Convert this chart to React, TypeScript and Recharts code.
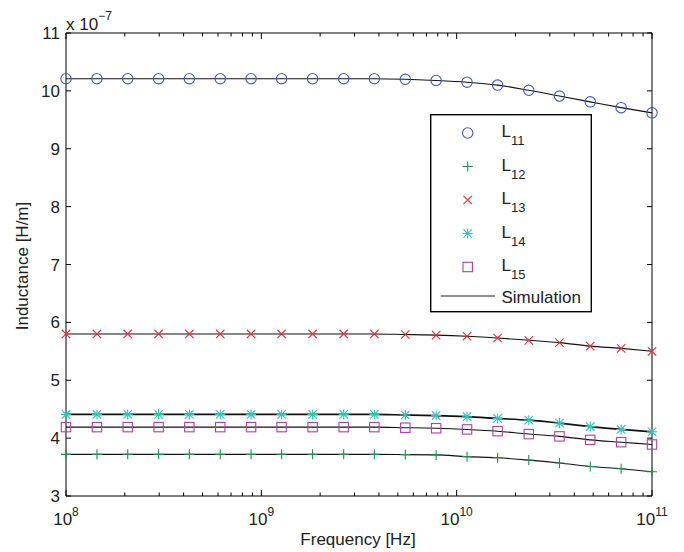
import React from 'react';
import { LineChart, Line, XAxis, YAxis, ReferenceArea } from 'recharts';

// frequency samples [Hz]
const freqs = [
  1e8, 1.44e8, 2.07e8, 2.98e8, 4.28e8, 6.16e8, 8.86e8, 1.27e9, 1.83e9, 2.64e9,
  3.79e9, 5.46e9, 7.85e9, 1.13e10, 1.62e10, 2.34e10, 3.36e10, 4.83e10, 6.95e10, 1e11,
];

// inductance, in units of 1e-7 H/m
const L11 = [10.21, 10.21, 10.21, 10.21, 10.21, 10.21, 10.21, 10.21, 10.21, 10.21, 10.21, 10.2, 10.18, 10.15, 10.1, 10.01, 9.91, 9.81, 9.71, 9.62];
const L12 = [3.72, 3.72, 3.72, 3.72, 3.72, 3.72, 3.72, 3.72, 3.72, 3.72, 3.72, 3.715, 3.71, 3.68, 3.66, 3.62, 3.57, 3.51, 3.47, 3.42];
const L13 = [5.8, 5.8, 5.8, 5.8, 5.8, 5.8, 5.8, 5.8, 5.8, 5.8, 5.8, 5.79, 5.78, 5.76, 5.73, 5.69, 5.65, 5.59, 5.55, 5.5];
const L14 = [4.41, 4.41, 4.41, 4.41, 4.41, 4.41, 4.41, 4.41, 4.41, 4.41, 4.41, 4.4, 4.39, 4.37, 4.34, 4.31, 4.26, 4.2, 4.15, 4.11];
const L15 = [4.19, 4.19, 4.19, 4.19, 4.19, 4.19, 4.19, 4.19, 4.19, 4.19, 4.19, 4.18, 4.17, 4.15, 4.12, 4.07, 4.03, 3.97, 3.93, 3.89];

const xMajor = [1e8, 1e9, 1e10, 1e11];
const xExp = ['8', '9', '10', '11'];
const yTicks = [3, 4, 5, 6, 7, 8, 9, 10, 11];

const series = [
  { key: 'L11', sub: '11', values: L11, shape: 'circle', color: '#3b5cc6' },
  { key: 'L12', sub: '12', values: L12, shape: 'plus', color: '#1f8f4f' },
  { key: 'L13', sub: '13', values: L13, shape: 'cross', color: '#ec2a30' },
  { key: 'L14', sub: '14', values: L14, shape: 'star', color: '#2ec2c4' },
  { key: 'L15', sub: '15', values: L15, shape: 'square', color: '#b03ea6' },
];

const rows = freqs.map((f, i) => {
  const r: any = { f };
  series.forEach((s) => { r[s.key] = s.values[i]; });
  return r;
});

// minor log ticks 2..9 per decade
const xMinor: number[] = [];
for (let d = 0; d < 3; d++) {
  for (let m = 2; m < 10; m++) xMinor.push(m * xMajor[d]);
}
const xTicks = [...xMajor, ...xMinor].sort((a, b) => a - b);

const W = 684;
const H = 552;
const M = { top: 33, right: 32, left: 0, bottom: 0 };
const Y_W = 66;
const X_H = 56;
const PLOT_W = W - M.right - Y_W;
const PLOT_H = H - M.top - X_H;
const FONT = '"Liberation Sans", Arial, Helvetica, sans-serif';
const TXT = '#222';

const Marker = ({ cx, cy, shape, color }: any) => {
  if (cx == null || cy == null) return null;
  const st = { stroke: color, strokeWidth: 1.1, fill: 'none' };
  if (shape === 'circle') return <circle cx={cx} cy={cy} r={5.2} {...st} />;
  if (shape === 'square') return <rect x={cx - 4.7} y={cy - 4.7} width={9.4} height={9.4} {...st} />;
  const plus = `M${cx - 5},${cy}H${cx + 5}M${cx},${cy - 5}V${cy + 5}`;
  const cross = `M${cx - 4.2},${cy - 4.2}L${cx + 4.2},${cy + 4.2}M${cx - 4.2},${cy + 4.2}L${cx + 4.2},${cy - 4.2}`;
  if (shape === 'plus') return <path d={plus} {...st} />;
  if (shape === 'cross') return <path d={cross} {...st} />;
  return <path d={plus + cross} {...st} />;
};

const XTick = ({ x, y, payload }: any) => {
  const v = payload.value;
  const ix = xMajor.indexOf(v);
  const len = ix >= 0 ? 6 : 3.5;
  return (
    <g>
      <line x1={x} y1={y} x2={x} y2={y - len} stroke="#000" />
      <line x1={x} y1={y - PLOT_H} x2={x} y2={y - PLOT_H + len} stroke="#000" />
      {ix >= 0 && (
        <text x={x} y={y + 29} textAnchor="middle" fontFamily={FONT} fill={TXT} fontSize={17}>
          10<tspan fontSize={12} dy={-9}>{xExp[ix]}</tspan>
        </text>
      )}
    </g>
  );
};

const YTick = ({ x, y, payload }: any) => (
  <g>
    <line x1={x} y1={y} x2={x + 5} y2={y} stroke="#000" />
    <line x1={x + PLOT_W - 5} y1={y} x2={x + PLOT_W} y2={y} stroke="#000" />
    <text x={x - 6} y={y} dy="0.36em" textAnchor="end" fontFamily={FONT} fill={TXT} fontSize={17}>
      {payload.value}
    </text>
  </g>
);

const LegendBox = () => {
  const rowY = (i: number) => 19 + i * 33.5;
  return (
    <svg width={163} height={200} style={{ position: 'absolute', left: 430, top: 114 }}>
      <rect x={0.7} y={0.7} width={160.6} height={197} fill="#fff" stroke="#000" strokeWidth={1.4} />
      {series.map((s, i) => (
        <g key={s.key}>
          <Marker cx={37.7} cy={rowY(i)} shape={s.shape} color={s.color} />
          <text x={71.5} y={rowY(i) + 4} fontFamily={FONT} fill={TXT} fontSize={17}>
            L<tspan fontSize={13} dy={8}>{s.sub}</tspan>
          </text>
        </g>
      ))}
      <line x1={10.7} y1={182} x2={65} y2={182} stroke="#222" strokeWidth={1.2} />
      <text x={71.5} y={188.5} fontFamily={FONT} fill={TXT} fontSize={17}>Simulation</text>
    </svg>
  );
};

export default function App() {
  return (
    <div style={{ position: 'absolute', left: 0, top: 0, width: W, height: H, background: '#fff' }}>
      <LineChart width={W} height={H} data={rows} margin={M}>
        <XAxis
          dataKey="f"
          type="number"
          scale="log"
          domain={[1e8, 1e11]}
          ticks={xTicks}
          interval={0}
          tickSize={0}
          tickMargin={0}
          axisLine={false}
          tickLine={false}
          tick={<XTick />}
          height={X_H}
        />
        <YAxis
          type="number"
          domain={[3, 11]}
          ticks={yTicks}
          interval={0}
          tickSize={0}
          tickMargin={0}
          axisLine={false}
          tickLine={false}
          tick={<YTick />}
          width={Y_W}
        />
        <ReferenceArea x1={1e8} x2={1e11} y1={3} y2={11} fill="none" stroke="#000" strokeWidth={1} ifOverflow="visible" />
        {series.map((s) => (
          <Line
            key={s.key}
            dataKey={s.key}
            type="monotone"
            stroke="#111"
            strokeWidth={s.key === 'L14' ? 1.7 : 1.1}
            isAnimationActive={false}
            activeDot={false}
            dot={(p: any) => <Marker key={`${s.key}-${p.index}`} cx={p.cx} cy={p.cy} shape={s.shape} color={s.color} />}
          />
        ))}
      </LineChart>
      <div style={{ position: 'absolute', left: 66, top: 0, fontFamily: FONT, color: TXT, fontSize: 17, lineHeight: '17px' }}>
        <span style={{ position: 'absolute', top: 11, whiteSpace: 'nowrap' }}>
          x 10<sup style={{ fontSize: 12, position: 'relative', top: -3 }}>−7</sup>
        </span>
      </div>
      <div style={{ position: 'absolute', left: 0, width: 716, top: 530, textAlign: 'center', fontFamily: FONT, color: TXT, fontSize: 17 }}>
        Frequency [Hz]
      </div>
      <div style={{ position: 'absolute', left: 22.5, top: 265.5, transform: 'translate(-50%, -50%) rotate(-90deg)', whiteSpace: 'nowrap', fontFamily: FONT, color: TXT, fontSize: 17 }}>
        Inductance [H/m]
      </div>
      <LegendBox />
    </div>
  );
}
